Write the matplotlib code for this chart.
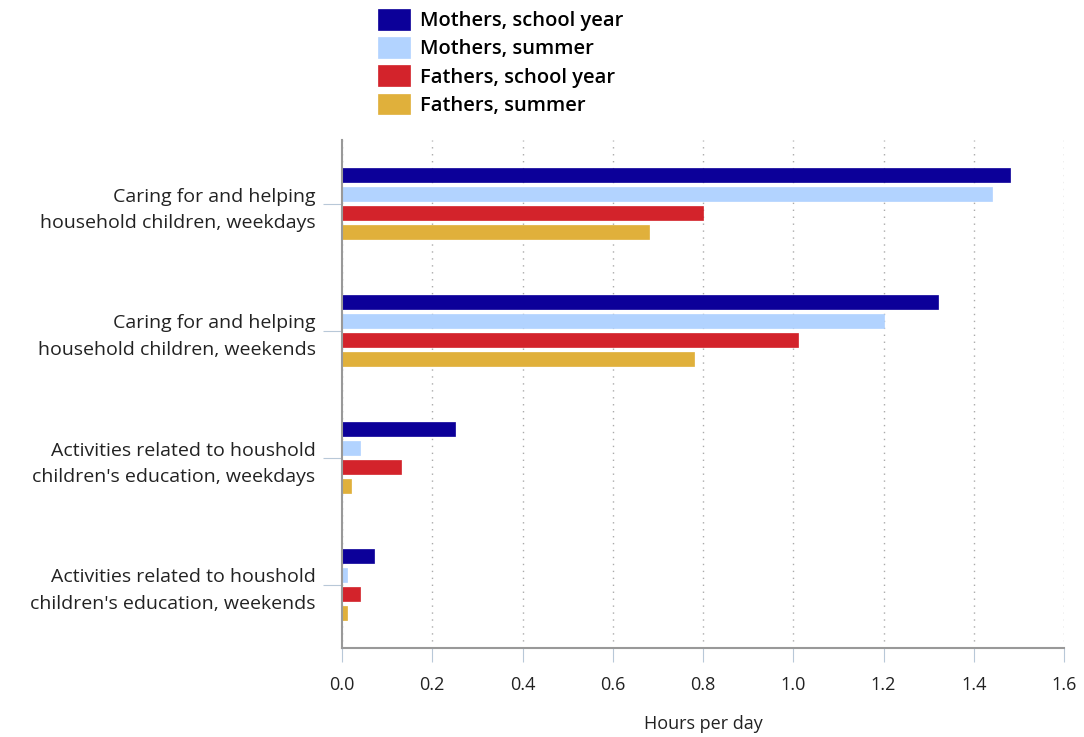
import matplotlib
matplotlib.use("Agg")
import matplotlib.pyplot as plt
import numpy as np

categories = [
    "Caring for and helping\nhousehold children, weekdays",
    "Caring for and helping\nhousehold children, weekends",
    "Activities related to houshold\nchildren's education, weekdays",
    "Activities related to houshold\nchildren's education, weekends",
]
series_names = ["Mothers, school year", "Mothers, summer", "Fathers, school year", "Fathers, summer"]
mothers_school = [1.48, 1.32, 0.25, 0.07]
mothers_summer = [1.44, 1.20, 0.04, 0.01]
fathers_school = [0.80, 1.01, 0.13, 0.04]
fathers_summer = [0.68, 0.78, 0.02, 0.01]
xticks = [0.0, 0.2, 0.4, 0.6, 0.8, 1.0, 1.2, 1.4, 1.6]

colors = ["#0c0099", "#b2d3ff", "#d3232b", "#e0b03b"]
series = [mothers_school, mothers_summer, fathers_school, fathers_summer]

plt.rcParams['font.family'] = ['Open Sans', 'DejaVu Sans']

fig = plt.figure(figsize=(10.84, 7.37), dpi=100)
ax = fig.add_axes([342/1084, 89/737, 722/1084, 508/737])

y = np.arange(len(categories))
step = 0.15
h = 0.11
for i, (vals, c, name) in enumerate(zip(series, colors, series_names)):
    ax.barh(y + (i - 1.5) * step, vals, height=h, color=c, label=name, edgecolor=c, linewidth=0.5)

ax.set_ylim(3.5, -0.5)
ax.set_xlim(0, 1.6)
ax.set_xticks(xticks)
ax.set_xticklabels([f"{v:.1f}" for v in xticks], fontsize=13, color="#222222")
ax.set_yticks(y)
ax.set_yticklabels(categories, fontsize=14, color="#222222", linespacing=1.6)
ax.tick_params(axis='x', length=10, color="#b8c8d8", pad=10)
ax.tick_params(axis='y', length=14, color="#b8c8d8", pad=5)
ax.xaxis.grid(True, linestyle=(0, (1, 4)), color="#aaaaaa", linewidth=1)
ax.set_axisbelow(True)
for s in ["top", "right"]:
    ax.spines[s].set_visible(False)
ax.spines["left"].set_color("#999999")
ax.spines["left"].set_linewidth(1.5)
ax.spines["bottom"].set_color("#999999")
ax.spines["bottom"].set_linewidth(1.5)
ax.set_xlabel("Hours per day", fontsize=13, color="#222222", labelpad=15)

fig.legend(loc="upper left", bbox_to_anchor=(366/1084, 1.004), frameon=False,
           prop={'size': 14.5, 'weight': 'semibold'}, handlelength=1.6, handleheight=1.2,
           labelspacing=0.3, handletextpad=0.5, borderaxespad=0.2)

fig.savefig("out.png", dpi=100)
